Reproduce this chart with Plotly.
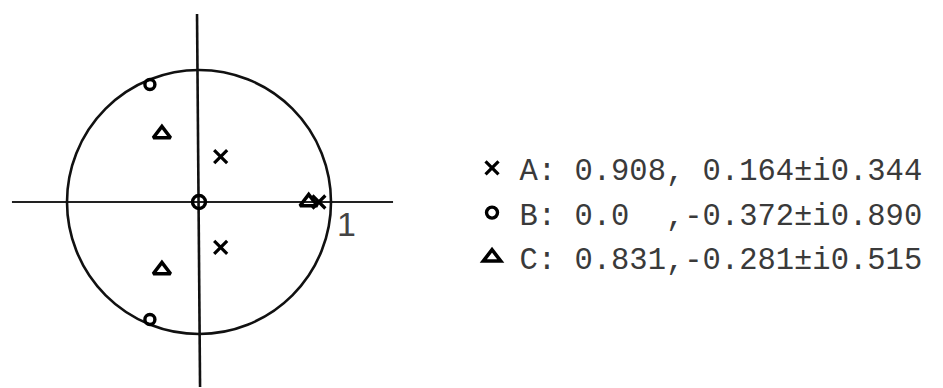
import plotly.graph_objects as go

# Zeros and poles of three filters (z-plane)
filters = ["A", "B", "C"]
zeros = [0.908, 0.0, 0.831]
poles_re = [0.164, -0.372, -0.281]
poles_im = [0.344, 0.890, 0.515]
zero_text = ["0.908", "0.0  ", "0.831"]
pole_text = [" 0.164±i0.344", "-0.372±i0.890", "-0.281±i0.515"]
symbols = ["x-thin-open", "circle-open", "triangle-up-open"]
# marker size for [zero, pole, pole]
sizes = [[13, 13, 13], [13, 10, 10], [15, 15, 15]]
widths = [3.2, 3.4, 3.6]

# unit circle and axis extents
unit_radius = 1.0
axis_x_extent = (-1.417, 1.470)
axis_y_extent = (-1.402, 1.424)

W, H = 943, 388
px_per_unit = 132.0
origin_px = (199.0, 202.0)  # origin in page pixels (from left, from top)

fig = go.Figure()

for name, z, pr, pi, zt, pt, sym, sz, lw in zip(
        filters, zeros, poles_re, poles_im, zero_text, pole_text,
        symbols, sizes, widths):
    label = f"{name}: {zt}, {pt.strip()}" if name == "A" else f"{name}: {zt},{pt}"
    fig.add_trace(go.Scatter(
        x=[z, pr, pr],
        y=[0.0, pi, -pi],
        mode="markers",
        name=label,
        legendgroup=name,
        marker=dict(symbol=sym, size=sz, color="black", opacity=1,
                    line=dict(color="black", width=lw)),
        cliponaxis=False,
    ))

# axes of the z-plane
fig.add_shape(type="line", x0=axis_x_extent[0], x1=axis_x_extent[1], y0=0, y1=0,
              line=dict(color="#222", width=2.2), layer="below")
fig.add_shape(type="line", x0=-0.015, x1=0.008, y0=axis_y_extent[1], y1=axis_y_extent[0],
              line=dict(color="#111", width=2.6), layer="below")
# unit circle
fig.add_shape(type="circle", x0=-unit_radius, x1=unit_radius,
              y0=-unit_radius, y1=unit_radius,
              line=dict(color="#111", width=2.6), layer="below")

fig.add_annotation(x=1.115, y=-0.165, text="1", showarrow=False,
                   font=dict(family="Liberation Sans", size=34, color="#444"))

x0 = -origin_px[0] / px_per_unit
y1 = origin_px[1] / px_per_unit
fig.update_xaxes(range=[x0, x0 + W / px_per_unit], visible=False, domain=[0, 1])
fig.update_yaxes(range=[y1 - H / px_per_unit, y1], visible=False, domain=[0, 1])

fig.update_layout(
    width=W, height=H,
    margin=dict(l=0, r=0, t=0, b=0),
    paper_bgcolor="white", plot_bgcolor="white",
    showlegend=True,
    legend=dict(x=0.4926, y=0.635, xanchor="left", yanchor="top",
                font=dict(family="Liberation Mono", size=30.5, color="#3a3a3a"),
                tracegroupgap=2, traceorder="grouped", itemwidth=45,
                bgcolor="rgba(0,0,0,0)", borderwidth=0),
)

fig.write_html("out.html")
